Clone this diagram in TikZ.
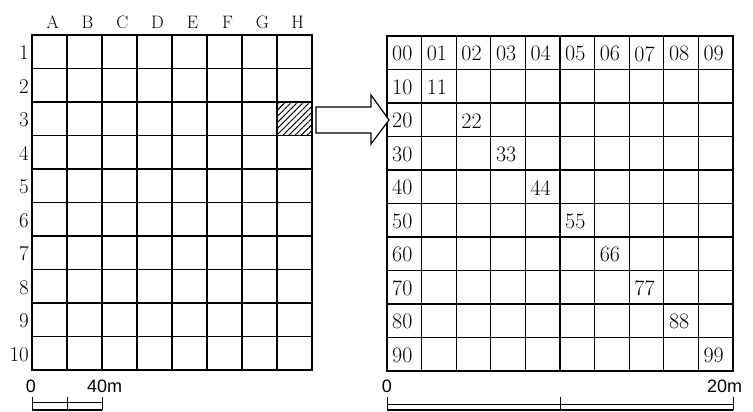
\documentclass[tikz,border=0pt]{standalone}
\usepackage{fontspec}
\newfontfamily\scalesans{Liberation Sans}
\usetikzlibrary{calc, positioning}
\usetikzlibrary{patterns.meta}

\tikzset{
  gridline/.style={line width=1.1pt},
  frame/.style={line width=1.8pt},
  collabel/.style={inner sep=0pt, font=\fontsize{18}{18}\selectfont},
  rowlabel/.style={inner sep=0pt, anchor=east, font=\fontsize{21}{21}\selectfont},
  celllabel/.style={inner sep=0pt, anchor=west, font=\fontsize{22}{22}\selectfont},
  scalelabel/.style={inner sep=0pt, font=\scalesans\fontsize{18}{18}\selectfont},
}

\begin{document}
\begin{tikzpicture}[x=1pt, y=-1pt]
\def\cwL{35}
\def\cwR{34.6}
\def\ch{33.5}

\useasboundingbox (0,0) rectangle (753,412);

\coordinate (Lnw) at (32,35);
\coordinate (Lse) at ($(Lnw)+(8*\cwL,10*\ch)$);
\coordinate (Rnw) at (387,36);
\coordinate (Rse) at ($(Rnw)+(10*\cwR,10*\ch)$);
\coordinate (Hsw) at ($(Lnw)+(7*\cwL,2*\ch)$);

% left map, cell H3 hatched
\fill[pattern={Lines[angle=45,distance=4.3pt,line width=1pt]}] (Hsw) rectangle ++(\cwL,\ch);
\foreach \i in {1,...,7}
  \draw[gridline] ($(Lnw)+(\i*\cwL,0)$) -- ++(0,10*\ch);
\foreach \j in {1,...,9}
  \draw[gridline] ($(Lnw)+(0,\j*\ch)$) -- ++(8*\cwL,0);
\draw[frame] (Hsw) rectangle ++(\cwL,\ch);
\draw[frame] (Lnw) rectangle (Lse);

\foreach \c [count=\i from 0] in {A,B,C,D,E,F,G,H}
  \node[collabel] (col\c) at ($(Lnw)+(\i*\cwL+0.5*\cwL+3,-13)$) {\c};
\foreach \r in {1,...,10}
  \node[rowlabel] (row\r) at ($(Lnw)+(-3,\r*\ch-0.5*\ch+1)$) {\r};

% enlarged cell
\foreach \i in {1,...,9}
  \draw[gridline] ($(Rnw)+(\i*\cwR,0)$) -- ++(0,10*\ch);
\foreach \j in {1,...,9}
  \draw[gridline] ($(Rnw)+(0,\j*\ch)$) -- ++(10*\cwR,0);
\draw[frame] (Rnw) rectangle (Rse);

\foreach \j in {0,...,9}
  \node[celllabel] (n0\j) at ($(Rnw)+(\j*\cwR+5,0.5*\ch+1)$) {0\j};
\foreach \i in {1,...,9} {
  \node[celllabel] (n\i0) at ($(Rnw)+(5,\i*\ch+0.5*\ch+1)$) {\i0};
  \node[celllabel] (n\i\i) at ($(Rnw)+(\i*\cwR+5,\i*\ch+0.5*\ch+1)$) {\i\i};
}

% block arrow
\draw[line width=1.2pt, fill=white] (316,107) -- (371,107) -- (371,95) -- (389,120)
  -- (371,144) -- (371,133) -- (316,133) -- cycle;

% scale bars
\coordinate (Ls) at (32,397);
\coordinate (Rs) at (387,397);
\draw[line width=0.8pt] ($(Ls)+(0,5)$) -- ++(2*\cwL,0);
\draw[frame] ($(Ls)+(0,13)$) -- ++(2*\cwL,0);
\foreach \k in {0,1,2}
  \draw[line width=1pt] ($(Ls)+(\k*\cwL,0)$) -- ++(0,13);
\draw[line width=0.8pt] ($(Rs)+(0,7)$) -- ++(10*\cwR,0);
\draw[frame] ($(Rs)+(0,13)$) -- ++(10*\cwR,0);
\foreach \k in {0,5,10}
  \draw[line width=1pt] ($(Rs)+(\k*\cwR,0)$) -- ++(0,13);

\node[scalelabel] (sL0) at (31,386) {0};
\node[scalelabel, anchor=west] (sL40) at (87,386) {40m};
\node[scalelabel] (sR0) at (387,386) {0};
\node[scalelabel, anchor=west] (sR20) at (707,386) {20m};
\end{tikzpicture}
\end{document}
